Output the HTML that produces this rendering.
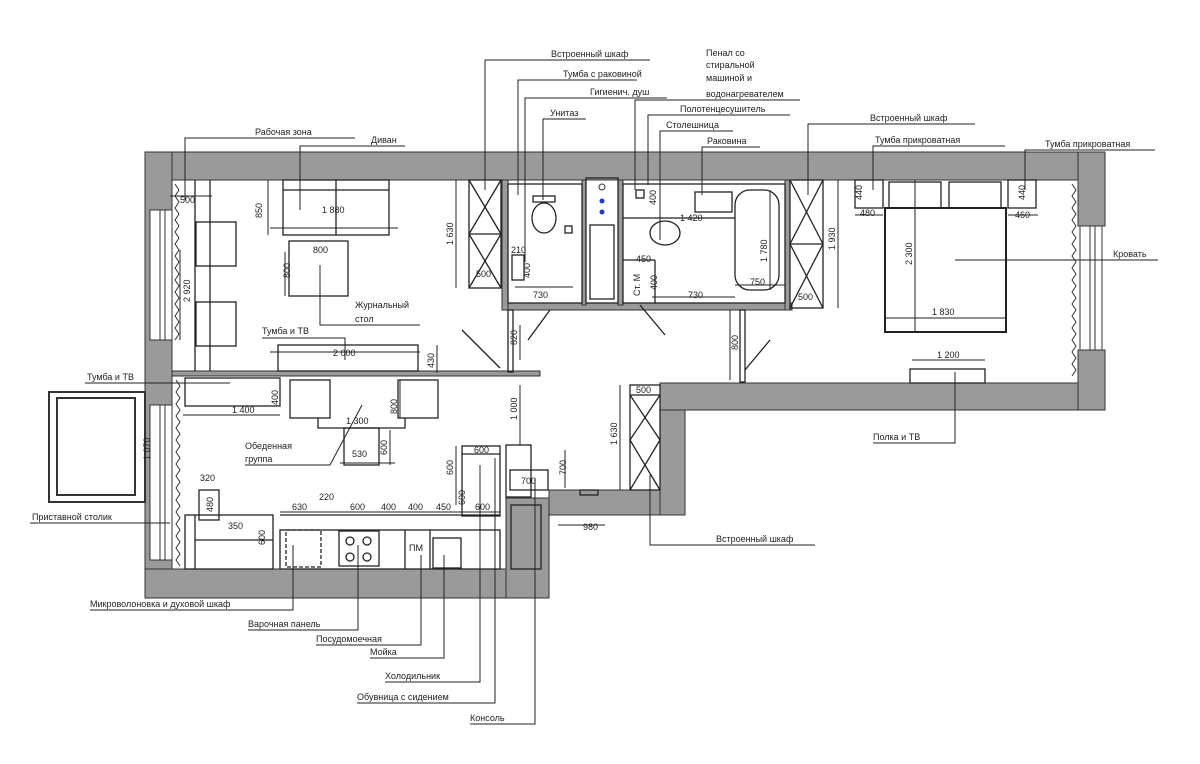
<!DOCTYPE html>
<html><head><meta charset="utf-8"><style>
html,body{margin:0;padding:0;background:#fff;}
svg{display:block;}
text{font-family:"Liberation Sans","Noto Sans CJK SC",sans-serif;font-size:9px;fill:#222;}
.d{font-size:9px;fill:#333;}
</style></head><body>
<svg width="1200" height="764" viewBox="0 0 1200 764" xmlns="http://www.w3.org/2000/svg">
<g fill="#9a9a9a" stroke="#333" stroke-width="1">
<!-- top wall -->
<rect x="145" y="152" width="960" height="28"/>
<!-- left wall -->
<rect x="145" y="152" width="27" height="446"/>
<!-- bottom left -->
<rect x="145" y="569" width="404" height="29"/>
<!-- kitchen right post -->
<rect x="506" y="498" width="43" height="100"/>
<!-- protrusion bottom -->
<rect x="549" y="490" width="136" height="25"/>
<!-- protrusion vertical -->
<rect x="660" y="383" width="25" height="132"/>
<!-- right bottom wall -->
<rect x="660" y="383" width="445" height="27"/>
<!-- right wall -->
<rect x="1078" y="152" width="27" height="74"/>
<rect x="1078" y="350" width="27" height="60"/>
<!-- bath block bottom -->
<rect x="502" y="303" width="290" height="7"/>
<rect x="502" y="180" width="6" height="130"/>
<rect x="582" y="180" width="4" height="125"/>
<rect x="618" y="180" width="5" height="125"/>
<rect x="785" y="180" width="5" height="130"/>
<!-- partition -->
<rect x="172" y="371" width="368" height="5"/>
</g>
<g fill="#fff" stroke="#333" stroke-width="1">
<rect x="150" y="210" width="22" height="130"/>
<rect x="150" y="405" width="22" height="155"/>
<rect x="1080" y="226" width="22" height="124"/>
</g>
<!-- windows details -->
<g stroke="#333" fill="none" stroke-width="1">
<line x1="160" y1="210" x2="160" y2="340"/><line x1="165" y1="210" x2="165" y2="340"/>
<line x1="160" y1="405" x2="160" y2="560"/><line x1="165" y1="405" x2="165" y2="560"/>
<line x1="1090" y1="226" x2="1090" y2="350"/><line x1="1095" y1="226" x2="1095" y2="350"/>
<polyline points="175,184 179,190 175,196 179,202 175,208 179,214 175,220 179,226 175,232 179,238 175,244 179,250 175,256 179,262 175,268 179,274 175,280 179,286 175,292 179,298 175,304 179,310 175,316 179,322 175,328 179,334 175,340"/>
<polyline points="176,380 180,386 176,392 180,398 176,404 180,410 176,416 180,422 176,428 180,434 176,440 180,446 176,452 180,458 176,464 180,470 176,476 180,482 176,488 180,494 176,500 180,506 176,512 180,518 176,524 180,530 176,536 180,542 176,548 180,554 176,560 180,566"/>
<polyline points="1072,184 1076,190 1072,196 1076,202 1072,208 1076,214 1072,220 1076,226 1072,232 1076,238 1072,244 1076,250 1072,256 1076,262 1072,268 1076,274 1072,280 1076,286 1072,292 1076,298 1072,304 1076,310 1072,316 1076,322 1072,328 1076,334 1072,340 1076,346 1072,352 1076,358 1072,364 1076,370 1072,376"/>
<!-- balcony -->
<rect x="49" y="392" width="96" height="110" stroke-width="2"/>
<rect x="57" y="398" width="78" height="97" stroke-width="2"/>
</g>
<g stroke="#222" fill="none" stroke-width="1.3">
<!-- living: chairs -->
<rect x="196" y="222" width="40" height="44"/><rect x="196" y="302" width="40" height="44"/>
<line x1="195" y1="180" x2="195" y2="371"/><line x1="210" y1="180" x2="210" y2="371"/>
<!-- sofa -->
<rect x="283" y="180" width="106" height="55"/><line x1="283" y1="190" x2="389" y2="190"/><line x1="336" y1="180" x2="336" y2="235"/>
<!-- coffee table -->
<rect x="289" y="241" width="59" height="55"/>
<!-- wardrobe living -->
<rect x="469" y="180" width="32" height="108"/><line x1="469" y1="180" x2="501" y2="234"/><line x1="501" y1="180" x2="469" y2="234"/><line x1="469" y1="234" x2="501" y2="288"/><line x1="501" y1="234" x2="469" y2="288"/><line x1="469" y1="234" x2="501" y2="234"/>
<!-- TV stand -->
<rect x="278" y="345" width="140" height="26"/>
<rect x="185" y="378" width="95" height="28"/>
<!-- dining -->
<rect x="290" y="380" width="40" height="38"/><rect x="398" y="380" width="40" height="38"/>
<polyline points="318,418 318,428 405,428 405,418"/>
<rect x="344" y="428" width="35" height="37"/>
<!-- door swings -->
<line x1="462" y1="330" x2="500" y2="368"/><line x1="528" y1="340" x2="550" y2="310"/>
<line x1="640" y1="305" x2="665" y2="335"/><line x1="745" y1="370" x2="770" y2="340"/>
<!-- corridor door frames -->
<rect x="508" y="310" width="5" height="62"/><rect x="740" y="310" width="5" height="72"/>
<!-- side table & armchair -->
<rect x="199" y="490" width="20" height="30"/>
<rect x="185" y="515" width="88" height="54"/><line x1="195" y1="515" x2="195" y2="569"/><line x1="195" y1="540" x2="273" y2="540"/>
<!-- kitchen -->
<line x1="280" y1="515" x2="500" y2="515"/>
<rect x="280" y="530" width="220" height="39"/>
<rect x="286" y="530" width="35" height="37" stroke-dasharray="4,2"/>
<rect x="339" y="531" width="40" height="35"/>
<circle cx="350" cy="541" r="4"/><circle cx="367" cy="541" r="4"/><circle cx="350" cy="557" r="4"/><circle cx="367" cy="557" r="4"/>
<line x1="405" y1="530" x2="405" y2="569"/><line x1="430" y1="530" x2="430" y2="569"/>
<rect x="433" y="538" width="28" height="30"/>
<rect x="462" y="446" width="38" height="70"/><line x1="462" y1="454" x2="500" y2="454"/>
<rect x="506" y="445" width="25" height="52"/><rect x="510" y="470" width="38" height="20"/>
<rect x="511" y="505" width="30" height="64"/>
<!-- hallway wardrobe -->
<rect x="630" y="385" width="30" height="105"/><line x1="630" y1="395" x2="660" y2="440"/><line x1="660" y1="395" x2="630" y2="440"/><line x1="630" y1="440" x2="660" y2="490"/><line x1="660" y1="440" x2="630" y2="490"/><line x1="630" y1="395" x2="660" y2="395"/>
<rect x="580" y="490" width="18" height="5"/>
<!-- bath 1 -->
<rect x="508" y="184" width="74" height="119"/>
<ellipse cx="544" cy="218" rx="12" ry="15"/><rect x="533" y="196" width="22" height="6"/>
<rect x="565" y="226" width="7" height="7"/>
<rect x="512" y="255" width="12" height="25"/>
<rect x="586" y="178" width="32" height="125"/><rect x="590" y="225" width="24" height="74"/>
<!-- bath 2 -->
<rect x="623" y="184" width="162" height="119"/>
<line x1="623" y1="218" x2="735" y2="218"/><rect x="636" y="190" width="8" height="8"/>
<rect x="695" y="192" width="37" height="20"/>
<ellipse cx="665" cy="233" rx="15" ry="12"/>
<line x1="623" y1="260" x2="655" y2="260"/><line x1="655" y1="260" x2="655" y2="303"/>
<rect x="735" y="190" width="44" height="100" rx="15"/>
<!-- bedroom wardrobe -->
<rect x="790" y="180" width="33" height="128"/><line x1="790" y1="180" x2="823" y2="244"/><line x1="823" y1="180" x2="790" y2="244"/><line x1="790" y1="244" x2="823" y2="308"/><line x1="823" y1="244" x2="790" y2="308"/><line x1="790" y1="244" x2="823" y2="244"/>
<!-- bed -->
<rect x="885" y="208" width="121" height="124" stroke-width="2"/>
<rect x="889" y="182" width="52" height="26"/><rect x="949" y="182" width="52" height="26"/>
<rect x="855" y="180" width="28" height="28"/><rect x="1008" y="180" width="28" height="28"/>
<rect x="910" y="369" width="75" height="14"/>
</g>
<g fill="#1f3fc8"><circle cx="602" cy="201" r="2.5"/><circle cx="602" cy="212" r="2.5"/></g>
<circle cx="602" cy="187" r="3" fill="none" stroke="#333"/>
<!-- dimension lines -->
<g stroke="#222" stroke-width="1" fill="none">
<line x1="170" y1="196" x2="212" y2="196"/><line x1="268" y1="180" x2="268" y2="235"/><line x1="270" y1="228" x2="398" y2="228"/>
<line x1="285" y1="252" x2="285" y2="296"/><line x1="456" y1="180" x2="456" y2="288"/>
<line x1="180" y1="250" x2="180" y2="340"/>
<line x1="270" y1="352" x2="420" y2="352"/><line x1="437" y1="345" x2="437" y2="373"/>
<line x1="183" y1="415" x2="280" y2="415"/><line x1="400" y1="380" x2="400" y2="418"/>
<line x1="340" y1="463" x2="395" y2="463"/><line x1="390" y1="430" x2="390" y2="465"/>
<line x1="520" y1="325" x2="520" y2="360"/><line x1="520" y1="385" x2="520" y2="445"/>
<line x1="620" y1="385" x2="620" y2="490"/><line x1="565" y1="450" x2="565" y2="488"/>
<line x1="558" y1="525" x2="605" y2="525"/>
<line x1="280" y1="512" x2="500" y2="512"/>
<line x1="456" y1="446" x2="456" y2="505"/>
<line x1="730" y1="310" x2="730" y2="380"/><line x1="838" y1="180" x2="838" y2="308"/>
<line x1="912" y1="360" x2="985" y2="360"/><line x1="885" y1="318" x2="1006" y2="318"/>
<line x1="915" y1="180" x2="915" y2="332"/><line x1="855" y1="215" x2="883" y2="215"/><line x1="1008" y1="215" x2="1038" y2="215"/>
<line x1="770" y1="190" x2="770" y2="290"/><line x1="735" y1="285" x2="785" y2="285"/>
<line x1="636" y1="218" x2="735" y2="218"/><line x1="515" y1="287" x2="573" y2="287"/><line x1="652" y1="297" x2="735" y2="297"/>
</g>
<!-- dimension texts -->
<g class="d">
<text x="180" y="203">500</text><text x="262" y="218" transform="rotate(-90 262 218)">850</text>
<text x="322" y="213">1 880</text><text x="313" y="253">800</text><text x="290" y="278" transform="rotate(-90 290 278)">800</text>
<text x="453" y="245" transform="rotate(-90 453 245)">1 630</text><text x="476" y="277">500</text>
<text x="190" y="302" transform="rotate(-90 190 302)">2 920</text>
<text x="333" y="356">2 000</text><text x="434" y="368" transform="rotate(-90 434 368)">430</text>
<text x="232" y="413">1 400</text><text x="278" y="405" transform="rotate(-90 278 405)">400</text>
<text x="346" y="424">1 300</text><text x="397" y="414" transform="rotate(-90 397 414)">800</text>
<text x="352" y="457">530</text><text x="387" y="455" transform="rotate(-90 387 455)">600</text>
<text x="517" y="345" transform="rotate(-90 517 345)">820</text><text x="517" y="420" transform="rotate(-90 517 420)">1 000</text>
<text x="617" y="445" transform="rotate(-90 617 445)">1 630</text><text x="636" y="393">500</text>
<text x="566" y="475" transform="rotate(-90 566 475)">700</text><text x="521" y="484">700</text>
<text x="583" y="530">980</text>
<text x="200" y="481">320</text><text x="213" y="512" transform="rotate(-90 213 512)">480</text><text x="228" y="529">350</text>
<text x="265" y="545" transform="rotate(-90 265 545)">600</text>
<text x="292" y="510">630</text><text x="319" y="500">220</text><text x="350" y="510">600</text><text x="381" y="510">400</text><text x="408" y="510">400</text><text x="436" y="510">450</text><text x="475" y="510">600</text>
<text x="474" y="453">600</text><text x="453" y="475" transform="rotate(-90 453 475)">600</text><text x="465" y="505" transform="rotate(-90 465 505)">600</text>
<text x="738" y="350" transform="rotate(-90 738 350)">800</text>
<text x="835" y="250" transform="rotate(-90 835 250)">1 930</text><text x="798" y="300">500</text>
<text x="937" y="358">1 200</text><text x="932" y="315">1 830</text><text x="912" y="265" transform="rotate(-90 912 265)">2 300</text>
<text x="862" y="200" transform="rotate(-90 862 200)">440</text><text x="860" y="216">480</text>
<text x="1025" y="200" transform="rotate(-90 1025 200)">440</text><text x="1015" y="218">460</text>
<text x="767" y="262" transform="rotate(-90 767 262)">1 780</text><text x="750" y="285">750</text>
<text x="680" y="221">1 420</text><text x="688" y="298">730</text><text x="533" y="298">730</text>
<text x="656" y="205" transform="rotate(-90 656 205)">400</text><text x="636" y="262">450</text>
<text x="640" y="296" transform="rotate(-90 640 296)">Ст. М</text><text x="657" y="290" transform="rotate(-90 657 290)">400</text>
<text x="530" y="278" transform="rotate(-90 530 278)">400</text><text x="511" y="253">210</text>
<text x="409" y="551">ПМ</text>
<text x="150" y="460" transform="rotate(-90 150 460)">1 070</text>
</g>
<!-- labels with leaders -->
<g stroke="#222" stroke-width="1" fill="none">
<polyline points="650,60 485,60 485,190"/>
<polyline points="637,80 518,80 518,195"/>
<polyline points="667,98 525,98 525,262"/>
<polyline points="586,119 543,119 543,200"/>
<polyline points="800,100 635,100 635,190"/>
<polyline points="790,115 648,115 648,185"/>
<polyline points="733,131 660,131 660,240"/>
<polyline points="760,147 702,147 702,195"/>
<polyline points="355,138 185,138 185,200"/>
<polyline points="405,146 300,146 300,210"/>
<polyline points="975,124 808,124 808,195"/>
<polyline points="1005,146 873,146 873,190"/>
<polyline points="1155,150 1025,150 1025,190"/>
<line x1="955" y1="260" x2="1158" y2="260"/>
<polyline points="420,325 320,325 320,265"/>
<polyline points="262,338 345,338 345,360"/>
<line x1="85" y1="383" x2="230" y2="383"/>
<polyline points="245,465 330,465 362,405"/>
<line x1="30" y1="523" x2="170" y2="523"/>
<polyline points="815,545 650,545 650,475"/>
<polyline points="873,443 955,443 955,372"/>
<polyline points="90,610 293,610 293,545"/>
<polyline points="248,630 358,630 358,545"/>
<polyline points="316,645 421,645 421,555"/>
<polyline points="370,658 444,658 444,555"/>
<polyline points="385,682 480,682 480,465"/>
<polyline points="357,703 495,703 495,458"/>
<polyline points="470,724 535,724 535,478"/>
</g>
<text x="551" y="57">Встроенный шкаф</text>
<text x="563" y="77">Тумба с раковиной</text>
<text x="590" y="95">Гигиенич. душ</text>
<text x="550" y="116">Унитаз</text>
<text x="706" y="56">Пенал со</text><text x="706" y="68">стиральной</text><text x="706" y="81">машиной и</text><text x="706" y="97">водонагревателем</text>
<text x="680" y="112">Полотенцесушитель</text>
<text x="666" y="128">Столешница</text>
<text x="707" y="144">Раковина</text>
<text x="255" y="135">Рабочая зона</text>
<text x="371" y="143">Диван</text>
<text x="870" y="121">Встроенный шкаф</text>
<text x="875" y="143">Тумба прикроватная</text>
<text x="1045" y="147">Тумба прикроватная</text>
<text x="1113" y="257">Кровать</text>
<text x="355" y="308">Журнальный</text><text x="355" y="322">стол</text>
<text x="262" y="334">Тумба и ТВ</text>
<text x="87" y="380">Тумба и ТВ</text>
<text x="245" y="449">Обеденная</text><text x="245" y="462">группа</text>
<text x="32" y="520">Приставной столик</text>
<text x="716" y="542">Встроенный шкаф</text>
<text x="873" y="440">Полка и ТВ</text>
<text x="90" y="607">Микроволоновка и духовой шкаф</text>
<text x="248" y="627">Варочная панель</text>
<text x="316" y="642">Посудомоечная</text>
<text x="370" y="655">Мойка</text>
<text x="385" y="679">Холодильник</text>
<text x="357" y="700">Обувница с сидением</text>
<text x="470" y="721">Консоль</text>
</svg>
</body></html>
